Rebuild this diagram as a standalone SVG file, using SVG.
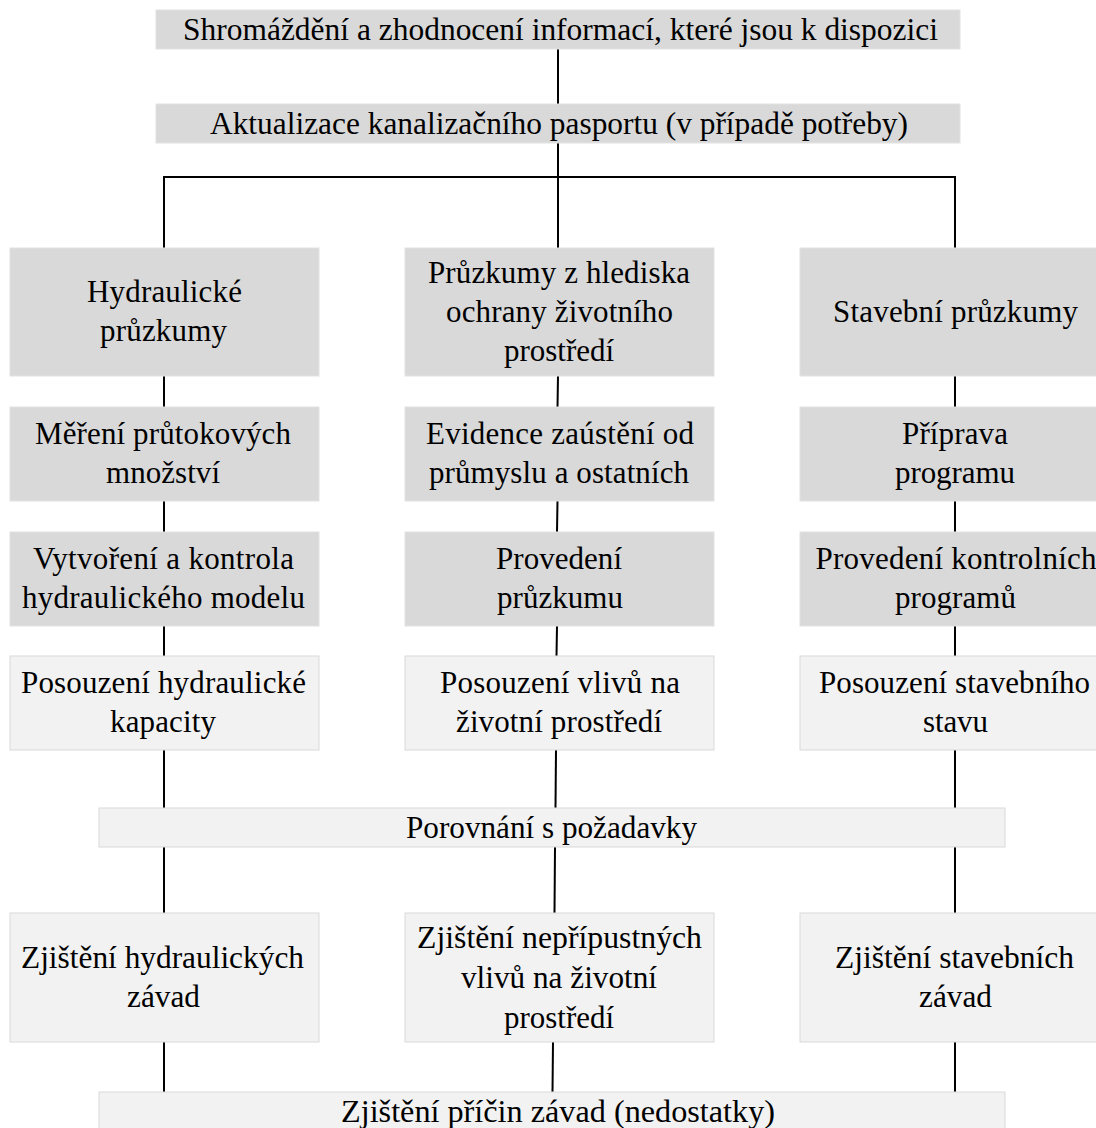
<svg xmlns="http://www.w3.org/2000/svg" width="1096" height="1128" viewBox="0 0 1096 1128">
<style>
.d{fill:#d9d9d9;stroke:#e2e2e2;stroke-width:1}
.l{fill:#f2f2f2;stroke:#d9d9d9;stroke-width:1}
.t text{font-family:"Liberation Serif","Times New Roman",Tinos,serif;font-size:31px;fill:#000;text-anchor:middle}
.c line,.c polyline{stroke:#000;stroke-width:2;fill:none}
</style>
<rect width="1096" height="1128" fill="#fff"/>
<g class="c" id="connectors">
<line x1="558" y1="49" x2="558" y2="104"/>
<line x1="558" y1="143" x2="558" y2="177"/>
<polyline points="164,248 164,177 955,177 955,248"/>
<line x1="558" y1="177" x2="558" y2="248"/>
<line x1="164" y1="376" x2="164" y2="407"/>
<line x1="164" y1="501" x2="164" y2="532"/>
<line x1="164" y1="626" x2="164" y2="656"/>
<line x1="164" y1="750" x2="164" y2="808"/>
<line x1="164" y1="847" x2="164" y2="913"/>
<line x1="164" y1="1042" x2="164" y2="1092"/>
<line x1="558" y1="376" x2="557.5" y2="407"/>
<line x1="557.5" y1="501" x2="557" y2="532"/>
<line x1="557" y1="626" x2="556.5" y2="656"/>
<line x1="556" y1="750" x2="555.5" y2="808"/>
<line x1="555" y1="847" x2="554.5" y2="913"/>
<line x1="553" y1="1042" x2="552.5" y2="1092"/>
<line x1="955" y1="376" x2="955" y2="407"/>
<line x1="955" y1="501" x2="955" y2="532"/>
<line x1="955" y1="626" x2="955" y2="656"/>
<line x1="955" y1="750" x2="955" y2="808"/>
<line x1="955" y1="847" x2="955" y2="913"/>
<line x1="955" y1="1042" x2="955" y2="1092"/>
</g>
<g class="t">
<g id="n-top"><rect class="d" x="156" y="10" width="804" height="39"/><text x="560.5" y="40" textLength="755" lengthAdjust="spacingAndGlyphs">Shromáždění a zhodnocení informací, které jsou k dispozici</text></g>
<g id="n-akt"><rect class="d" x="156" y="104" width="804" height="39"/><text x="559" y="134" textLength="698" lengthAdjust="spacingAndGlyphs">Aktualizace kanalizačního pasportu (v případě potřeby)</text></g>

<g id="n-hyd"><rect class="d" x="10" y="248" width="309" height="128"/><text x="164.5" y="302" textLength="155" lengthAdjust="spacing">Hydraulické</text><text x="163.5" y="341" textLength="127" lengthAdjust="spacing">průzkumy</text></g>
<g id="n-env"><rect class="d" x="405" y="248" width="309" height="128"/><text x="559" y="283" textLength="262" lengthAdjust="spacing">Průzkumy z hlediska</text><text x="559.5" y="322" textLength="227" lengthAdjust="spacing">ochrany životního</text><text x="559" y="361" textLength="110" lengthAdjust="spacing">prostředí</text></g>
<g id="n-stav"><rect class="d" x="800" y="248" width="310" height="128"/><text x="955.5" y="322" textLength="245" lengthAdjust="spacing">Stavební průzkumy</text></g>

<g id="n-mer"><rect class="d" x="10" y="407" width="309" height="94"/><text x="163" y="444" textLength="256" lengthAdjust="spacing">Měření průtokových</text><text x="163" y="483" textLength="114" lengthAdjust="spacing">množství</text></g>
<g id="n-evi"><rect class="d" x="405" y="407" width="309" height="94"/><text x="560" y="444" textLength="268" lengthAdjust="spacing">Evidence zaústění od</text><text x="559" y="483" textLength="260" lengthAdjust="spacing">průmyslu a ostatních</text></g>
<g id="n-pri"><rect class="d" x="800" y="407" width="310" height="94"/><text x="955" y="444" textLength="106" lengthAdjust="spacing">Příprava</text><text x="955" y="483" textLength="120" lengthAdjust="spacing">programu</text></g>

<g id="n-vyt"><rect class="d" x="10" y="532" width="309" height="94"/><text x="163.5" y="569" textLength="261" lengthAdjust="spacing">Vytvoření a kontrola</text><text x="163.5" y="608" textLength="283" lengthAdjust="spacing">hydraulického modelu</text></g>
<g id="n-prov"><rect class="d" x="405" y="532" width="309" height="94"/><text x="559" y="569" textLength="126" lengthAdjust="spacing">Provedení</text><text x="560" y="608" textLength="126" lengthAdjust="spacing">průzkumu</text></g>
<g id="n-provk"><rect class="d" x="800" y="532" width="310" height="94"/><text x="956" y="569" textLength="281" lengthAdjust="spacing">Provedení kontrolních</text><text x="955.5" y="608" textLength="121" lengthAdjust="spacing">programů</text></g>

<g id="n-posh"><rect class="l" x="10" y="656" width="309" height="94"/><text x="163.5" y="693" textLength="285" lengthAdjust="spacing">Posouzení hydraulické</text><text x="163" y="732" textLength="106" lengthAdjust="spacing">kapacity</text></g>
<g id="n-posv"><rect class="l" x="405" y="656" width="309" height="94"/><text x="560" y="693" textLength="240" lengthAdjust="spacing">Posouzení vlivů na</text><text x="559" y="732" textLength="206" lengthAdjust="spacing">životní prostředí</text></g>
<g id="n-poss"><rect class="l" x="800" y="656" width="310" height="94"/><text x="954.5" y="693" textLength="271" lengthAdjust="spacing">Posouzení stavebního</text><text x="955.5" y="732" textLength="65" lengthAdjust="spacing">stavu</text></g>

<g id="n-por"><rect class="l" x="99" y="808" width="906" height="39"/><text x="551.5" y="838" textLength="291" lengthAdjust="spacingAndGlyphs">Porovnání s požadavky</text></g>

<g id="n-zh"><rect class="l" x="10" y="913" width="309" height="129"/><text x="162.5" y="968" textLength="283" lengthAdjust="spacingAndGlyphs">Zjištění hydraulických</text><text x="163.5" y="1007" textLength="73" lengthAdjust="spacingAndGlyphs">závad</text></g>
<g id="n-zv"><rect class="l" x="405" y="913" width="309" height="129"/><text x="559.5" y="948" textLength="285" lengthAdjust="spacingAndGlyphs">Zjištění nepřípustných</text><text x="559" y="988" textLength="196" lengthAdjust="spacingAndGlyphs">vlivů na životní</text><text x="559" y="1028" textLength="110" lengthAdjust="spacingAndGlyphs">prostředí</text></g>
<g id="n-zs"><rect class="l" x="800" y="913" width="310" height="129"/><text x="954.5" y="968" textLength="239" lengthAdjust="spacingAndGlyphs">Zjištění stavebních</text><text x="955.5" y="1007" textLength="73" lengthAdjust="spacingAndGlyphs">závad</text></g>

<g id="n-pric"><rect class="l" x="99" y="1092" width="906" height="45"/><text x="558" y="1122" textLength="434" lengthAdjust="spacingAndGlyphs">Zjištění příčin závad (nedostatky)</text></g>
</g>
</svg>
